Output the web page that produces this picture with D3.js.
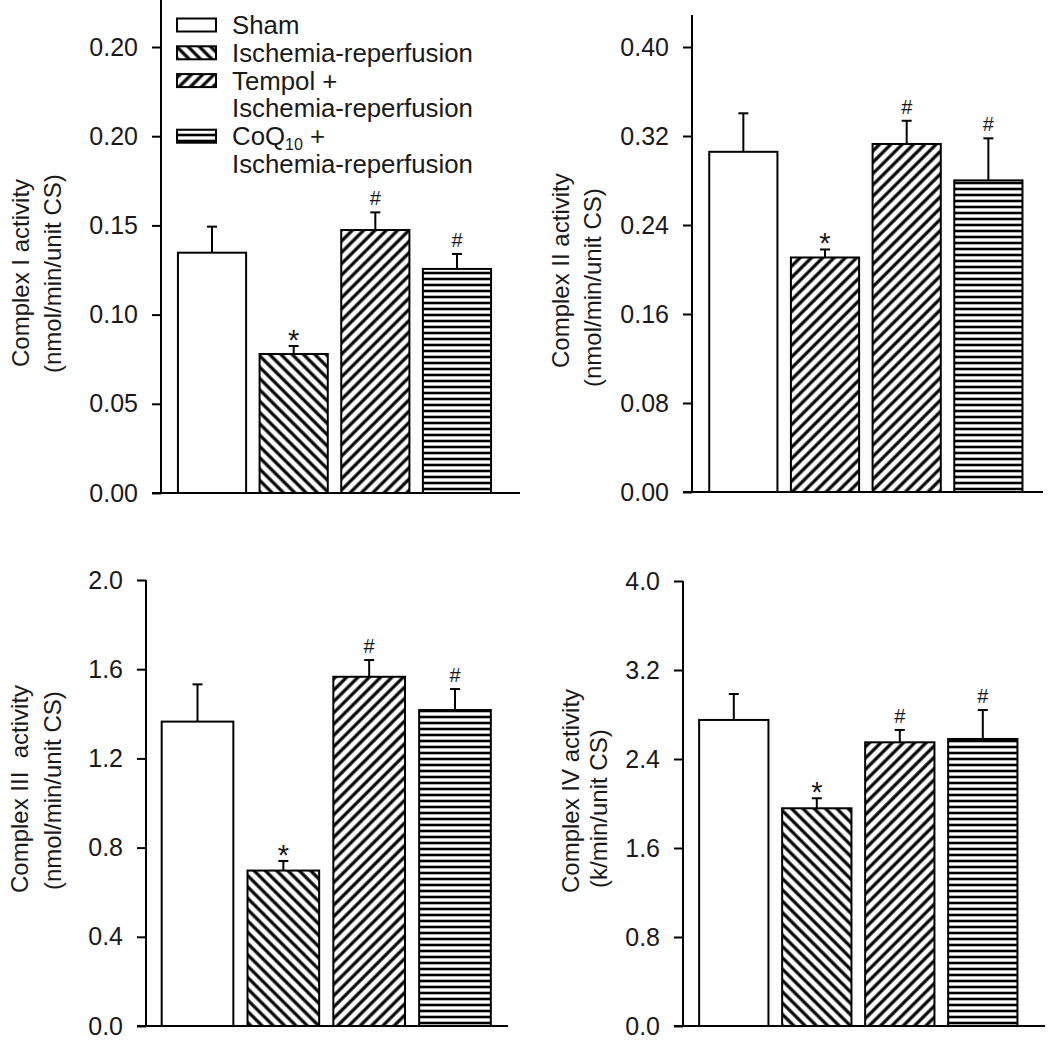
<!DOCTYPE html>
<html><head><meta charset="utf-8">
<script src="https://cdn.jsdelivr.net/npm/d3@7"></script>
<style>
body{margin:0;background:#fff}
svg{display:block}
text{font-family:Arial,"Liberation Sans",sans-serif;fill:#1a1a1a}
</style>
</head><body>
<svg id="c" width="1050" height="1045"></svg>
<script>
// ---------------- DATA ----------------
const groups = ["Sham", "Ischemia-reperfusion", "Tempol + Ischemia-reperfusion", "CoQ10 + Ischemia-reperfusion"];
const significance = ["", "*", "#", "#"];

const complexIMean = [0.1347, 0.0779, 0.1474, 0.1256];
const complexIErr  = [0.0146, 0.0045, 0.0099, 0.0084];
const complexITicks = [0, 0.05, 0.10, 0.15, 0.20, 0.25];
const complexITickLabels = ["0.00", "0.05", "0.10", "0.15", "0.20", "0.20"];

const complexIIMean = [0.3058, 0.2108, 0.3128, 0.2801];
const complexIIErr  = [0.0346, 0.0072, 0.0209, 0.0378];
const complexIITicks = [0, 0.08, 0.16, 0.24, 0.32, 0.40];
const complexIITickLabels = ["0.00", "0.08", "0.16", "0.24", "0.32", "0.40"];

const complexIIIMean = [1.365, 0.697, 1.566, 1.417];
const complexIIIErr  = [0.167, 0.043, 0.075, 0.094];
const complexIIITicks = [0, 0.4, 0.8, 1.2, 1.6, 2.0];
const complexIIITickLabels = ["0.0", "0.4", "0.8", "1.2", "1.6", "2.0"];

const complexIVMean = [2.751, 1.957, 2.550, 2.580];
const complexIVErr  = [0.233, 0.090, 0.111, 0.260];
const complexIVTicks = [0, 0.8, 1.6, 2.4, 3.2, 4.0];
const complexIVTickLabels = ["0.0", "0.8", "1.6", "2.4", "3.2", "4.0"];

// ---------------- STYLE / LAYOUT ----------------
const svg = d3.select("#c");
const defs = svg.append("defs");
function hatch(id, angle, spacing, sw) {
  const p = defs.append("pattern").attr("id", id)
    .attr("patternUnits", "userSpaceOnUse")
    .attr("width", spacing).attr("height", spacing)
    .attr("patternTransform", `rotate(${angle})`);
  p.append("rect").attr("width", spacing).attr("height", spacing).attr("fill", "#fff");
  p.append("line").attr("x1", -1).attr("y1", spacing / 2).attr("x2", spacing + 1).attr("y2", spacing / 2)
    .attr("stroke", "#000").attr("stroke-width", sw);
}
hatch("back", 45, 8, 3.2);
hatch("fwd", -45, 8, 3.2);
hatch("horiz", 0, 6, 2.6);
const fillFor = {none: "#fff", back: "url(#back)", fwd: "url(#fwd)", horiz: "url(#horiz)"};

const panels = [
  {mean: complexIMean, err: complexIErr, ticks: complexITicks, tickLabels: complexITickLabels,
   domain: [0, 0.25], lines: ["Complex I activity", "(nmol/min/unit CS)"],
   fills: ["none", "back", "fwd", "horiz"],
   yRange: [493, 47], band: [171.2, 497.8], axisX: 161, axisTop: 0, xEnd: 520,
   lab: [{x: 29, y: 367}, {x: 61, y: 373}]},
  {mean: complexIIMean, err: complexIIErr, ticks: complexIITicks, tickLabels: complexIITickLabels,
   domain: [0, 0.40], lines: ["Complex II activity", "(nmol/min/unit CS)"],
   fills: ["none", "fwd", "fwd", "horiz"],
   yRange: [492, 47], band: [702.5, 1029.2], axisX: 692, axisTop: 15, xEnd: 1043,
   lab: [{x: 569, y: 368}, {x: 601, y: 387}]},
  {mean: complexIIIMean, err: complexIIIErr, ticks: complexIIITicks, tickLabels: complexIIITickLabels,
   domain: [0, 2.0], lines: ["Complex III  activity", "(nmol/min/unit CS)"],
   fills: ["none", "back", "fwd", "horiz"],
   yRange: [1026, 580], band: [154.6, 497.9], axisX: 146, axisTop: 580, xEnd: 508,
   lab: [{x: 28, y: 893}, {x: 60.5, y: 890}]},
  {mean: complexIVMean, err: complexIVErr, ticks: complexIVTicks, tickLabels: complexIVTickLabels,
   domain: [0, 4.0], lines: ["Complex IV activity", "(k/min/unit CS)"],
   fills: ["none", "back", "fwd", "horiz"],
   yRange: [1026, 581], band: [692.3, 1024.3], axisX: 683, axisTop: 581, xEnd: 1045,
   lab: [{x: 579, y: 893}, {x: 607, y: 888}]}
];

const TICK = 9;
panels.forEach(p => {
  const g = svg.append("g");
  const y = d3.scaleLinear().domain(p.domain).range(p.yRange);
  const x = d3.scaleBand().domain(d3.range(groups.length)).range(p.band)
    .paddingInner(0.165).paddingOuter(0.0825);

  // y axis
  const ax = g.append("g").attr("transform", `translate(${p.axisX},0)`)
    .call(d3.axisLeft(y).tickValues(p.ticks).tickFormat((d, i) => p.tickLabels[i])
      .tickSize(TICK).tickPadding(14));
  ax.select(".domain").remove();
  ax.selectAll(".tick line").attr("stroke", "#000").attr("stroke-width", 2);
  ax.selectAll(".tick text").attr("font-size", 25).attr("fill", "#1a1a1a")
    .style("font-family", "Arial, 'Liberation Sans', sans-serif");
  g.append("line").attr("x1", p.axisX).attr("x2", p.axisX)
    .attr("y1", y(0) + 1).attr("y2", p.axisTop)
    .attr("stroke", "#000").attr("stroke-width", 2);
  // x axis baseline
  g.append("line").attr("x1", p.axisX - TICK).attr("x2", p.xEnd)
    .attr("y1", y(0)).attr("y2", y(0))
    .attr("stroke", "#000").attr("stroke-width", 2);

  // bars
  g.selectAll("rect.bar").data(p.mean).join("rect").attr("class", "bar")
    .attr("x", (d, i) => x(i)).attr("width", x.bandwidth())
    .attr("y", d => y(d)).attr("height", d => y(0) - y(d))
    .attr("fill", (d, i) => fillFor[p.fills[i]])
    .attr("stroke", "#000").attr("stroke-width", 2);

  // error bars
  const cx = i => x(i) + x.bandwidth() / 2;
  g.selectAll("line.eb").data(p.mean).join("line").attr("class", "eb")
    .attr("x1", (d, i) => cx(i)).attr("x2", (d, i) => cx(i))
    .attr("y1", d => y(d)).attr("y2", (d, i) => y(d + p.err[i]))
    .attr("stroke", "#000").attr("stroke-width", 2);
  g.selectAll("line.cap").data(p.mean).join("line").attr("class", "cap")
    .attr("x1", (d, i) => cx(i) - 5).attr("x2", (d, i) => cx(i) + 5)
    .attr("y1", (d, i) => y(d + p.err[i])).attr("y2", (d, i) => y(d + p.err[i]))
    .attr("stroke", "#000").attr("stroke-width", 2);

  // significance marks
  g.selectAll("text.sig").data(p.mean).join("text").attr("class", "sig")
    .attr("x", (d, i) => cx(i))
    .attr("y", (d, i) => y(d + p.err[i]) - (significance[i] === "*" ? -4 : 7))
    .attr("text-anchor", "middle")
    .attr("font-size", (d, i) => significance[i] === "*" ? 29 : 20)
    .text((d, i) => significance[i]);

  // y label (two lines)
  p.lines.forEach((t, k) => {
    g.append("text")
      .attr("transform", `translate(${p.lab[k].x},${p.lab[k].y}) rotate(-90)`)
      .attr("text-anchor", "start").attr("font-size", 24)
      .style("white-space", "pre")
      .text(t);
  });
});

// ---------------- LEGEND ----------------
const legendItems = [
  {fill: "none", lines: ["Sham"]},
  {fill: "back", lines: ["Ischemia-reperfusion"]},
  {fill: "fwd", lines: ["Tempol +", "Ischemia-reperfusion"]},
  {fill: "horiz", lines: ["CoQ10 +", "Ischemia-reperfusion"]}
];
const lg = svg.append("g");
const lineH = 27.8;
let row = 0;
const legendTop = 25;
legendItems.forEach((it, i) => {
  const cy = legendTop + row * lineH;
  lg.append("rect").attr("x", 177).attr("y", cy - 6.5).attr("width", 39).attr("height", 13)
    .attr("fill", fillFor[it.fill]).attr("stroke", "#000").attr("stroke-width", 2);
  it.lines.forEach((t, k) => {
    const tx = lg.append("text").attr("x", 232).attr("y", cy + k * lineH + 9).attr("font-size", 25.8);
    if (t.startsWith("CoQ10")) {
      tx.append("tspan").text("CoQ");
      tx.append("tspan").attr("font-size", 16).attr("dy", 5).text("10");
      tx.append("tspan").attr("dy", -5).text(" +");
    } else {
      tx.text(t);
    }
  });
  row += it.lines.length;
});
</script>
</body></html>
